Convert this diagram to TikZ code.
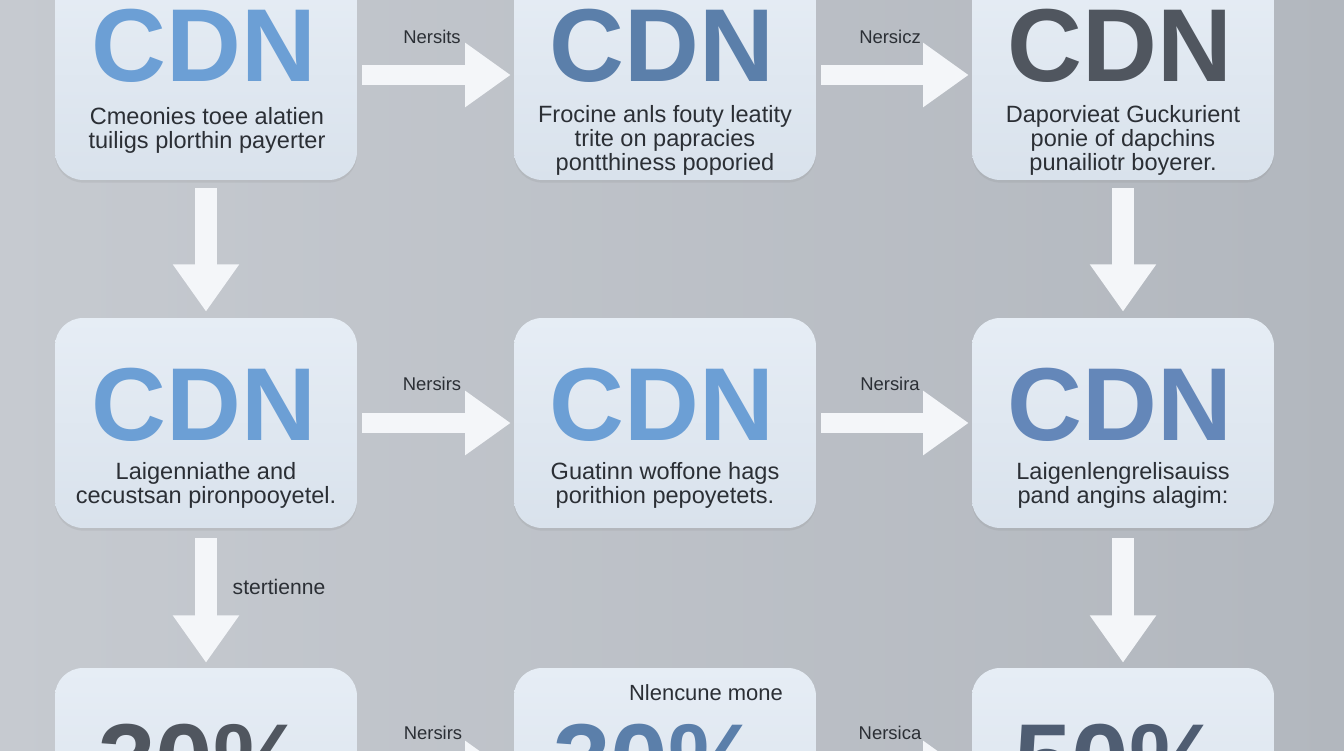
\documentclass[tikz,border=0pt]{standalone}
\usepackage{fontspec}
\setmainfont{Liberation Sans}
\usetikzlibrary{arrows.meta,shadows}
\definecolor{bgleft}{HTML}{C6CAD0}
\definecolor{bgright}{HTML}{B2B7BE}
\definecolor{cardtop}{HTML}{E6EDF5}
\definecolor{cardbot}{HTML}{D9E2EC}
\definecolor{ink}{HTML}{2B2F35}
\definecolor{flowwhite}{HTML}{F4F6F9}
\definecolor{skyblue}{HTML}{6C9FD5}
\definecolor{steelblue}{HTML}{5B7FAA}
\definecolor{slateblue}{HTML}{6487B9}
\definecolor{darkslate}{HTML}{50565F}
\definecolor{navyslate}{HTML}{4F5D72}
\begin{document}
\begin{tikzpicture}[x=0.02cm,y=0.02cm,
		card/.style={rounded corners=16pt,minimum width=6.04cm,minimum height=4.2cm,top color=cardtop,bottom color=cardbot,drop shadow={opacity=0.15,shadow xshift=0pt,shadow yshift=-1.5pt}},
		big/.style={anchor=base,inner sep=0,font=\fontsize{59}{59}\selectfont\bfseries},
		txt/.style={anchor=north,inner sep=0,align=center,text=ink,font=\fontsize{13.4}{13.8}\selectfont},
		lbl/.style={inner sep=0,text=ink,font=\fontsize{10.5}{12}\selectfont},
		hflow/.style={draw=flowwhite,line width=11.5pt,-{Triangle[width=35pt,length=26pt]},shorten <=2.8pt,shorten >=1.7pt},
		vflow/.style={draw=flowwhite,line width=13pt,-{Triangle[width=36pt,length=27pt]}}]
			\useasboundingbox (0,0) rectangle (1344,750);
			\clip (0,0) rectangle (1344,750);
			\fill[left color=bgleft,right color=bgright] (0,0) rectangle (1344,750);
			\node[card] (c11) at (206,675) {};
			\node[card] (c12) at (665,675) {};
			\node[card] (c13) at (1123,675) {};
			\node[card] (c21) at (206,327) {};
			\node[card] (c22) at (665,327) {};
			\node[card] (c23) at (1123,327) {};
			\node[card] (c31) at (206,-23) {};
			\node[card] (c32) at (665,-23) {};
			\node[card] (c33) at (1123,-23) {};
			\draw[hflow] (c11) -- (c12);
			\draw[hflow] (c12) -- (c13);
			\draw[hflow] (c21) -- (c22);
			\draw[hflow] (c22) -- (c23);
			\draw[hflow] (c31) -- (c32);
			\draw[hflow] (c32) -- (c33);
			\draw[vflow,shorten <=4.5pt,shorten >=3.4pt] (c11) -- (c21);
			\draw[vflow,shorten <=4.5pt,shorten >=3.4pt] (c13) -- (c23);
			\draw[vflow,shorten <=5.7pt,shorten >=2.8pt] (c21) -- (c31);
			\draw[vflow,shorten <=5.7pt,shorten >=2.8pt] (c23) -- (c33);
			\node[big,text=skyblue] (t11) at (204,668) {CDN};
			\node[big,text=steelblue] (t12) at (662,668) {CDN};
			\node[big,text=darkslate] (t13) at (1120,668) {CDN};
			\node[big,text=skyblue] (t21) at (204,309) {CDN};
			\node[big,text=skyblue] (t22) at (662,309) {CDN};
			\node[big,text=slateblue] (t23) at (1120,309) {CDN};
			\node[big,text=darkslate] (t31) at (202,-46) {30\%};
			\node[big,text=steelblue] (t32) at (657,-46) {30\%};
			\node[big,text=navyslate] (t33) at (1118,-46) {50\%};
			\node[txt] (d11) at (207,643) {Cmeonies toee alatien\\tuiligs plorthin payerter};
			\node[txt] (d12) at (665,645) {Frocine anls fouty leatity\\trite on papracies\\pontthiness poporied};
			\node[txt] (d13) at (1123,645) {Daporvieat Guckurient\\ponie of dapchins\\punailiotr boyerer.};
			\node[txt] (d21) at (206,288) {Laigenniathe and\\cecustsan pironpooyetel.};
			\node[txt] (d22) at (665,288) {Guatinn woffone hags\\porithion pepoyetets.};
			\node[txt] (d23) at (1123,288) {Laigenlengrelisauiss\\pand angins alagim:};
			\node[lbl] (n1) at (432,713) {Nersits};
			\node[lbl] (n2) at (890,713) {Nersicz};
			\node[lbl] (n3) at (432,366) {Nersirs};
			\node[lbl] (n4) at (890,366) {Nersira};
			\node[lbl] (n5) at (433,17) {Nersirs};
			\node[lbl] (n6) at (890,17) {Nersica};
			\node[lbl,font=\fontsize{12}{14}\selectfont] (n7) at (279,163) {stertienne};
			\node[lbl,font=\fontsize{12.5}{14}\selectfont] (n8) at (706,57) {Nlencune mone};
		\end{tikzpicture}
\end{document}
